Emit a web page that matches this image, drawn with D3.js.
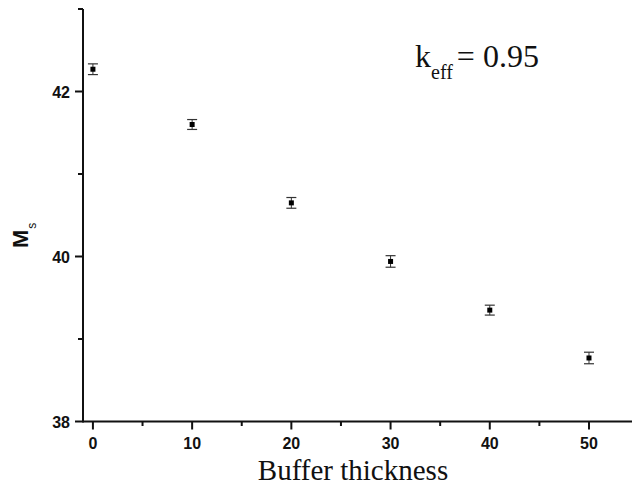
<!DOCTYPE html>
<html><head><meta charset="utf-8">
<script src="https://cdn.jsdelivr.net/npm/d3@7"></script>
<style>body{margin:0;background:#fff}svg{display:block}</style>
</head><body>
<svg id="c" width="632" height="488"></svg>
<script>
const thickness = [0, 10, 20, 30, 40, 50];
const ms = [42.27, 41.60, 40.65, 39.94, 39.35, 38.77];
const msErr = [0.065, 0.06, 0.065, 0.07, 0.06, 0.07];
const xMajor = [0, 10, 20, 30, 40, 50];
const xMinor = [5, 15, 25, 35, 45];
const yMajor = [38, 40, 42];
const yMinor = [39, 41, 43];

const svg = d3.select('#c');
const x = d3.scaleLinear().domain([-1, 55]).range([83, 638.6]);
const y = d3.scaleLinear().domain([38, 43]).range([421.5, 9]);

const ink = '#111';
// axes lines
svg.append('line').attr('x1', x(-1)).attr('x2', 640).attr('y1', y(38)).attr('y2', y(38))
  .attr('stroke', ink).attr('stroke-width', 2);
svg.append('line').attr('x1', x(-1)).attr('x2', x(-1)).attr('y1', y(38)+1).attr('y2', y(43))
  .attr('stroke', ink).attr('stroke-width', 2);

// x ticks
const xa = svg.append('g').attr('transform', `translate(0,${y(38)})`);
xa.selectAll('line.maj').data(xMajor).join('line')
  .attr('x1', d => x(d)).attr('x2', d => x(d)).attr('y1', 0).attr('y2', 8)
  .attr('stroke', ink).attr('stroke-width', 2);
xa.selectAll('line.min').data(xMinor).join('line')
  .attr('x1', d => x(d)).attr('x2', d => x(d)).attr('y1', 0).attr('y2', 4.5)
  .attr('stroke', ink).attr('stroke-width', 2);
xa.selectAll('text').data(xMajor).join('text')
  .attr('x', d => x(d)).attr('y', 27).attr('text-anchor', 'middle')
  .attr('font-family', 'Liberation Sans, Arial, sans-serif').attr('font-weight', 'bold')
  .attr('font-size', 16).attr('fill', ink).text(d => d);

// y ticks
const ya = svg.append('g').attr('transform', `translate(${x(-1)},0)`);
ya.selectAll('line.maj').data(yMajor).join('line')
  .attr('x1', -8).attr('x2', 0).attr('y1', d => y(d)).attr('y2', d => y(d))
  .attr('stroke', ink).attr('stroke-width', 2);
ya.selectAll('line.min').data(yMinor).join('line')
  .attr('x1', -5).attr('x2', 0).attr('y1', d => y(d)).attr('y2', d => y(d))
  .attr('stroke', ink).attr('stroke-width', 2);
ya.selectAll('text').data(yMajor).join('text')
  .attr('x', -13).attr('y', d => y(d) + 6).attr('text-anchor', 'end')
  .attr('font-family', 'Liberation Sans, Arial, sans-serif').attr('font-weight', 'bold')
  .attr('font-size', 16).attr('fill', ink).text(d => d);

// error bars & points
const pts = svg.append('g');
thickness.forEach((t, i) => {
  const cx = x(t), lo = y(ms[i] - msErr[i]), hi = y(ms[i] + msErr[i]);
  pts.append('line').attr('x1', cx).attr('x2', cx).attr('y1', lo).attr('y2', hi)
    .attr('stroke', '#333').attr('stroke-width', 1);
  [lo, hi].forEach(v => pts.append('line').attr('x1', cx - 5).attr('x2', cx + 5)
    .attr('y1', v).attr('y2', v).attr('stroke', '#333').attr('stroke-width', 1.2));
  pts.append('rect').attr('x', cx - 2.5).attr('y', y(ms[i]) - 2.5)
    .attr('width', 5).attr('height', 5).attr('fill', '#000');
});

// x label
svg.append('text').attr('x', 353).attr('y', 480).attr('text-anchor', 'middle')
  .attr('font-family', 'Liberation Serif, Times New Roman, serif')
  .attr('font-size', 29).attr('fill', ink).text('Buffer thickness');

// y label
const yl = svg.append('text').attr('transform', 'translate(28,248) rotate(-90)')
  .attr('font-family', 'Liberation Sans, Arial, sans-serif').attr('font-weight', 'bold')
  .attr('font-size', 22).attr('fill', ink);
yl.append('tspan').text('M');
yl.append('tspan').attr('font-size', 12).attr('font-weight', 'normal').attr('dy', 8).attr('dx', 1).text('s');

// annotation
const an = svg.append('text').attr('x', 415).attr('y', 67)
  .attr('font-family', 'Liberation Serif, Times New Roman, serif')
  .attr('font-size', 32).attr('fill', ink);
an.append('tspan').text('k');
an.append('tspan').attr('font-size', 20).attr('dy', 12).text('eff');
an.append('tspan').attr('dy', -12).attr('dx', 4).text('= 0.95');
</script>
</body></html>
